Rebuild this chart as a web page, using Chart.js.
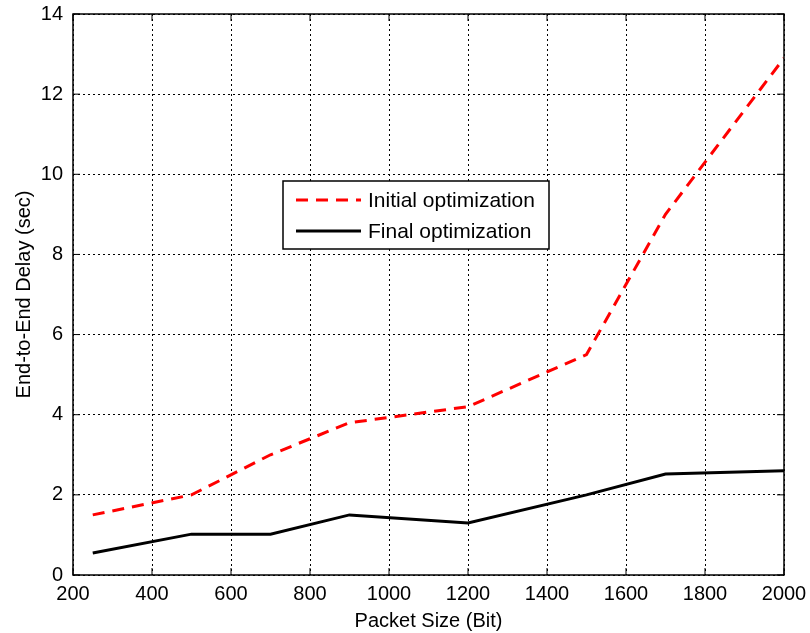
<!DOCTYPE html>
<html>
<head>
<meta charset="utf-8">
<script src="https://cdn.jsdelivr.net/npm/chart.js@4"></script>
<style>
  html, body { margin: 0; padding: 0; background: #fff; }
  #wrap { width: 810px; height: 633px; }
</style>
</head>
<body>
<div id="wrap"><canvas id="chart" width="810" height="633"></canvas></div>
<script>
var packetSizes = [250, 500, 700, 900, 1200, 1500, 1700, 2000];
var initialDelay = [1.5, 2.0, 3.0, 3.8, 4.2, 5.5, 9.0, 12.9];
var finalDelay = [0.55, 1.02, 1.02, 1.5, 1.3, 2.0, 2.52, 2.6];
var seriesLabels = ["Initial optimization", "Final optimization"];
var xTitle = "Packet Size (Bit)";
var yTitle = "End-to-End Delay (sec)";

var FONT = "'Liberation Sans', Arial, Helvetica, sans-serif";

function toPoints(xs, ys) {
  return xs.map(function (x, i) {
    return { x: x, y: ys[i] };
  });
}

// box round the plot and inward ticks, matlab style
var frame = {
  id: "frame",
  afterDraw: function (chart) {
    var ctx = chart.ctx;
    var a = chart.chartArea;
    var xs = chart.scales.x, ys = chart.scales.y;
    ctx.save();
    ctx.strokeStyle = "#000";
    ctx.lineWidth = 1.5;
    ctx.setLineDash([]);
    ctx.strokeRect(a.left, a.top, a.right - a.left, a.bottom - a.top);
    ctx.lineWidth = 1;
    ctx.beginPath();
    xs.ticks.forEach(function (t) {
      var px = xs.getPixelForValue(t.value);
      ctx.moveTo(px, a.bottom); ctx.lineTo(px, a.bottom - 7);
      ctx.moveTo(px, a.top); ctx.lineTo(px, a.top + 7);
    });
    ys.ticks.forEach(function (t) {
      var py = ys.getPixelForValue(t.value);
      ctx.moveTo(a.left, py); ctx.lineTo(a.left + 7, py);
      ctx.moveTo(a.right, py); ctx.lineTo(a.right - 7, py);
    });
    ctx.stroke();

    // legend box
    var bx = 283, by = 181, bw = 266, bh = 68;
    ctx.fillStyle = "#fff";
    ctx.fillRect(bx, by, bw, bh);
    ctx.lineWidth = 1.5;
    ctx.strokeRect(bx, by, bw, bh);
    ctx.font = "21px " + FONT;
    ctx.textBaseline = "middle";
    chart.data.datasets.forEach(function (ds, i) {
      var cy = by + 19 + i * 31;
      ctx.strokeStyle = ds.borderColor;
      ctx.lineWidth = ds.borderWidth;
      ctx.setLineDash(ds.borderDash || []);
      ctx.beginPath();
      ctx.moveTo(bx + 13, cy);
      ctx.lineTo(bx + 78, cy);
      ctx.stroke();
      ctx.setLineDash([]);
      ctx.fillStyle = "#000";
      ctx.fillText(ds.label, bx + 85, cy + 1);
    });
    ctx.restore();
  }
};

function plainTick(v) {
  return String(v);
}

var ctx = document.getElementById("chart");
var myChart = new Chart(ctx, {
  type: "line",
  data: {
    datasets: [
      {
        label: seriesLabels[0],
        data: toPoints(packetSizes, initialDelay),
        borderColor: "#ff0000",
        borderWidth: 3,
        borderDash: [12, 8],
        pointRadius: 0,
        fill: false,
        tension: 0,
      },
      {
        label: seriesLabels[1],
        data: toPoints(packetSizes, finalDelay),
        borderColor: "#000000",
        borderWidth: 3,
        pointRadius: 0,
        fill: false,
        tension: 0,
      },
    ],
  },
  options: {
    responsive: false,
    animation: false,
    layout: { padding: { top: 14, right: 26, left: 0, bottom: 0 } },
    plugins: {
      legend: { display: false },
      tooltip: { enabled: false },
    },
    scales: {
      x: {
        type: "linear",
        min: 200,
        max: 2000,
        ticks: { stepSize: 200, color: "#000", font: { size: 20, family: FONT }, padding: 7, callback: plainTick },
        grid: { color: "#000", lineWidth: 1, drawTicks: false },
        border: { display: false, dash: [2, 3] },
        title: { display: true, text: xTitle, color: "#000", font: { size: 20, family: FONT }, padding: { top: 4, bottom: 0 } },
        afterFit: function (s) {
          s.height = 58;
          s.paddingLeft = 0;
          s.paddingRight = 0;
        },
      },
      y: {
        min: 0,
        max: 14,
        ticks: { stepSize: 2, color: "#000", font: { size: 20, family: FONT }, padding: 10, callback: plainTick },
        grid: { color: "#000", lineWidth: 1, drawTicks: false },
        border: { display: false, dash: [2, 3] },
        title: { display: true, text: yTitle, color: "#000", font: { size: 20, family: FONT }, padding: { top: 12, bottom: 0 } },
        afterFit: function (s) {
          s.width = 73;
          s.paddingTop = 0;
          s.paddingBottom = 0;
        },
      },
    },
  },
  plugins: [frame],
});
</script>
</body>
</html>
